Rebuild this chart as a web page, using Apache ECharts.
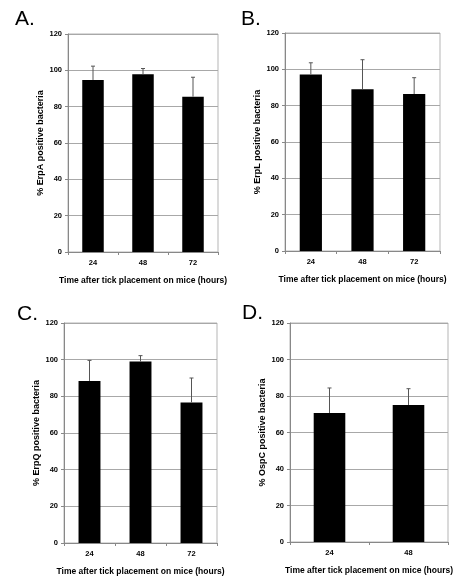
<!DOCTYPE html>
<html>
<head>
<meta charset="utf-8">
<script src="https://cdn.jsdelivr.net/npm/echarts@6/dist/echarts.min.js"></script>
<style>html,body{margin:0;padding:0;background:#fff}#c{width:461px;height:583px}</style>
</head>
<body>
<div id="c"></div>
<script>
// Data
const hours3 = ['24', '48', '72'];
const hours2 = ['24', '48'];
const erpA = [94.7, 97.8, 85.5];
const erpAErr = [7.6, 3.2, 10.7];
const erpL = [97.2, 89.1, 86.4];
const erpLErr = [6.4, 16.2, 9.0];
const erpQ = [88.4, 99.0, 76.7];
const erpQErr = [11.2, 3.2, 13.3];
const ospC = [70.7, 75.1];
const ospCErr = [13.7, 8.9];
const yTicks = [0, 20, 40, 60, 80, 100, 120];
const panelLetters = ['A.', 'B.', 'C.', 'D.'];
const yTitles = ['% ErpA positive bacteria', '% ErpL positive bacteria', '% ErpQ positive bacteria', '% OspC positive bacteria'];
const xTitle = 'Time after tick placement on mice (hours)';

const panels = [
  {cats: hours3, vals: erpA, errs: erpAErr, grid: {left: 68, top: 34, width: 150, height: 218}, bw: '43%', letter: [10, 4]},
  {cats: hours3, vals: erpL, errs: erpLErr, grid: {left: 285, top: 33, width: 155, height: 218}, bw: '43%', letter: [236, 4]},
  {cats: hours3, vals: erpQ, errs: erpQErr, grid: {left: 64, top: 323, width: 153, height: 220}, bw: '43%', letter: [12, 299]},
  {cats: hours2, vals: ospC, errs: ospCErr, grid: {left: 290, top: 323, width: 158, height: 219}, bw: '40%', letter: [237, 298]}
];

const font = 'Liberation Sans, Arial, sans-serif';
const option = {
  animation: false,
  backgroundColor: '#fff',
  title: [], grid: [], xAxis: [], yAxis: [], series: []
};

function renderErr(params, api) {
  const base = api.coord([api.value(0), api.value(1)]);
  const top = api.coord([api.value(0), api.value(2)]);
  const st = {stroke: '#555', lineWidth: 1};
  return {
    type: 'group',
    children: [
      {type: 'line', shape: {x1: base[0], y1: base[1], x2: top[0], y2: top[1]}, style: st},
      {type: 'line', shape: {x1: top[0] - 2, y1: top[1], x2: top[0] + 2, y2: top[1]}, style: st}
    ]
  };
}

panels.forEach((p, i) => {
  option.title.push({
    text: panelLetters[i], left: p.letter[0], top: p.letter[1],
    textStyle: {fontFamily: font, fontSize: 21, fontWeight: 'normal', color: '#000'}
  });
  option.grid.push(Object.assign({show: true, borderColor: '#b5b5b5', borderWidth: 1, backgroundColor: 'transparent'}, p.grid));
  option.xAxis.push({
    type: 'category', gridIndex: i, data: p.cats,
    name: xTitle, nameLocation: 'middle', nameGap: 24,
    nameTextStyle: {fontFamily: font, fontSize: 8.5, fontWeight: 'bold', color: '#000'},
    axisLine: {lineStyle: {color: '#888'}},
    axisTick: {show: true, length: 3, lineStyle: {color: '#888'}},
    axisLabel: {fontFamily: font, fontSize: 7.5, fontWeight: 'bold', color: '#000', margin: 7}
  });
  option.yAxis.push({
    type: 'value', gridIndex: i, min: 0, max: 120, interval: 20,
    name: yTitles[i], nameLocation: 'middle', nameGap: 23, nameRotate: 90,
    nameTextStyle: {fontFamily: font, fontSize: 9, fontWeight: 'bold', color: '#000'},
    axisLine: {show: true, lineStyle: {color: '#888'}},
    axisTick: {show: true, length: 3, lineStyle: {color: '#888'}},
    axisLabel: {fontFamily: font, fontSize: 7.5, fontWeight: 'bold', color: '#000', margin: 6,
      formatter: v => yTicks.includes(v) ? String(v) : ''},
    splitLine: {show: true, lineStyle: {color: '#a8a8a8', width: 1}}
  });
  option.series.push({
    type: 'bar', xAxisIndex: i, yAxisIndex: i, data: p.vals, barWidth: p.bw,
    itemStyle: {color: '#000'}
  });
  option.series.push({
    type: 'custom', xAxisIndex: i, yAxisIndex: i, renderItem: renderErr,
    encode: {x: 0, y: [1, 2]}, z: 3,
    data: p.vals.map((v, k) => [k, v, v + p.errs[k]])
  });
});

const chart = echarts.init(document.getElementById('c'), null, {renderer: 'canvas'});
chart.setOption(option);
</script>
</body>
</html>
